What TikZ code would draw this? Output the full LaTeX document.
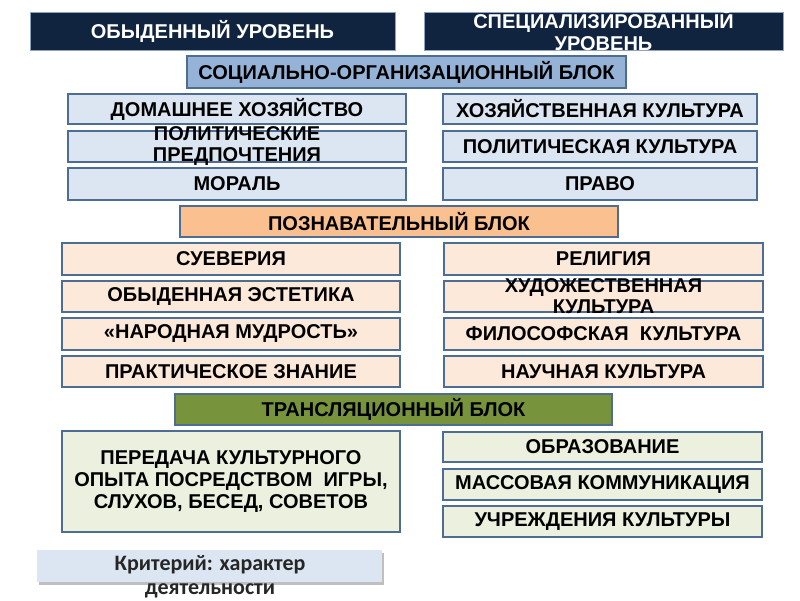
\documentclass[tikz,border=0pt]{standalone}
\usepackage{fontspec}
\setmainfont{Liberation Sans}
\newfontfamily\critfont{Carlito}
\definecolor{navy}{HTML}{10243F}
\definecolor{navyline}{HTML}{8DA3BF}
\definecolor{socfill}{HTML}{95B3D7}
\definecolor{boxline}{HTML}{4D6D93}
\definecolor{bluerow}{HTML}{DCE6F2}
\definecolor{orghead}{HTML}{FAC090}
\definecolor{salrow}{HTML}{FDE9D9}
\definecolor{grnhead}{HTML}{77933C}
\definecolor{grnrow}{HTML}{EBF1DE}
\tikzset{
  x=1pt, y=-1pt,
  basebox/.style={rectangle, inner sep=0pt, draw=boxline, line width=1.2pt},
  hdrbox/.style={basebox, fill=navy, draw=navyline, line width=1pt},
  socbox/.style={basebox, fill=socfill},
  browbox/.style={basebox, fill=bluerow},
  oheadbox/.style={basebox, fill=orghead},
  srowbox/.style={basebox, fill=salrow},
  gheadbox/.style={basebox, fill=grnhead},
  growbox/.style={basebox, fill=grnrow},
  boxtext/.style={inner sep=0pt, align=center, text=black, font=\bfseries\fontsize{20}{21}\selectfont},
  hdrtext/.style={boxtext, text=white, font=\bfseries\fontsize{20}{22}\selectfont},
}
% #1 box style, #2-#5 corners (px), #6 name, #7 text style, #8 text
\newcommand{\bx}[8]{%
  \node[#1, minimum width=#4pt-#2pt, minimum height=#5pt-#3pt] (#6) at ({(#2+#4)/2},{(#3+#5)/2}) {};
  \node[#7] (#6-t) at (#6.center) {#8};}
\begin{document}
\begin{tikzpicture}
\useasboundingbox (0,0) rectangle (800,600);
\fill[white] (0,0) rectangle (800,600);
% headers
\bx{hdrbox}{30}{12}{395}{50}{h1}{hdrtext}{ОБЫДЕННЫЙ УРОВЕНЬ}
\bx{hdrbox}{424}{12}{783}{50}{h2}{hdrtext}{СПЕЦИАЛИЗИРОВАННЫЙ\\УРОВЕНЬ}
% social-organisational block
\bx{socbox}{187}{56}{626}{88}{soc}{boxtext}{СОЦИАЛЬНО-ОРГАНИЗАЦИОННЫЙ БЛОК}
\bx{browbox}{68}{94}{406}{124}{b1}{boxtext}{ДОМАШНЕЕ ХОЗЯЙСТВО}
\bx{browbox}{68}{131}{406}{162}{b2}{boxtext}{ПОЛИТИЧЕСКИЕ\\ПРЕДПОЧТЕНИЯ}
\bx{browbox}{68}{168}{406}{200}{b3}{boxtext}{МОРАЛЬ}
\bx{browbox}{443}{94}{757}{124}{c1}{boxtext}{ХОЗЯЙСТВЕННАЯ КУЛЬТУРА}
\bx{browbox}{443}{131}{757}{162}{c2}{boxtext}{ПОЛИТИЧЕСКАЯ КУЛЬТУРА}
\bx{browbox}{443}{168}{757}{200}{c3}{boxtext}{ПРАВО}
% cognitive block
\bx{oheadbox}{180}{206}{618}{237}{cog}{boxtext}{ПОЗНАВАТЕЛЬНЫЙ БЛОК}
\bx{srowbox}{62}{243}{400}{275}{s1}{boxtext}{СУЕВЕРИЯ}
\bx{srowbox}{62}{281}{400}{312}{s2}{boxtext}{ОБЫДЕННАЯ ЭСТЕТИКА}
\bx{srowbox}{62}{318}{400}{350}{s3}{boxtext}{«НАРОДНАЯ МУДРОСТЬ»}
\bx{srowbox}{62}{356}{400}{387}{s4}{boxtext}{ПРАКТИЧЕСКОЕ ЗНАНИЕ}
\bx{srowbox}{444}{243}{763}{275}{t1}{boxtext}{РЕЛИГИЯ}
\bx{srowbox}{444}{281}{763}{312}{t2}{boxtext}{ХУДОЖЕСТВЕННАЯ\\КУЛЬТУРА}
\bx{srowbox}{444}{318}{763}{350}{t3}{boxtext}{ФИЛОСОФСКАЯ~ КУЛЬТУРА}
\bx{srowbox}{444}{356}{763}{387}{t4}{boxtext}{НАУЧНАЯ КУЛЬТУРА}
% translation block
\bx{gheadbox}{175}{394}{612}{425}{tr}{boxtext}{ТРАНСЛЯЦИОННЫЙ БЛОК}
\bx{growbox}{62}{431}{400}{532}{g1}{boxtext, font=\bfseries\fontsize{20}{22}\selectfont}{ПЕРЕДАЧА КУЛЬТУРНОГО\\ОПЫТА ПОСРЕДСТВОМ~ ИГРЫ,\\СЛУХОВ, БЕСЕД, СОВЕТОВ}
\bx{growbox}{443}{432}{762}{462}{r1}{boxtext}{ОБРАЗОВАНИЕ}
\bx{growbox}{443}{469}{762}{500}{r2}{boxtext}{МАССОВАЯ КОММУНИКАЦИЯ}
\bx{growbox}{443}{506}{762}{537}{r3}{boxtext}{УЧРЕЖДЕНИЯ КУЛЬТУРЫ}
% criterion
\fill[black!25] (39,553) rectangle (384,585);
\fill[bluerow] (37,550) rectangle (382,582);
\coordinate (crit) at (210,565);
\node[font=\critfont\bfseries\fontsize{22}{24}\selectfont, align=center, anchor=center, text=black!85] (critt) at ([yshift=-12pt]crit) {Критерий: характер\\деятельности};
\end{tikzpicture}
\end{document}
